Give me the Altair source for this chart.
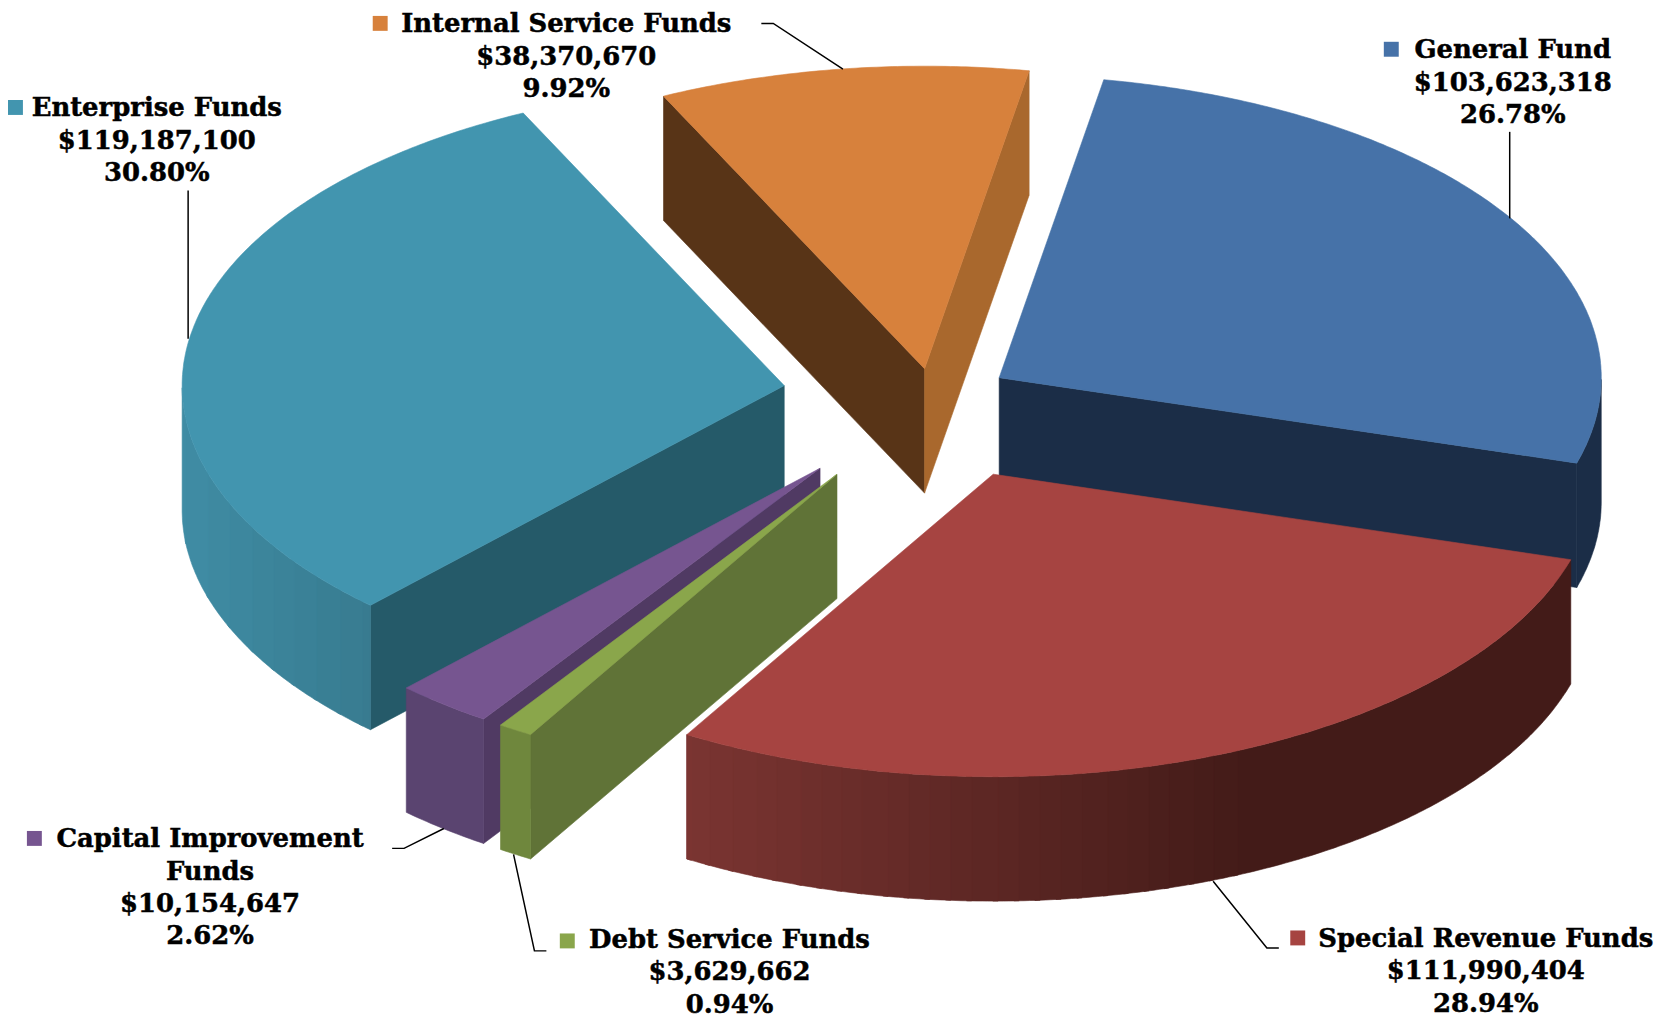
import math
import altair as alt

# ---- values ----
names = ["General Fund", "Special Revenue Funds", "Debt Service Funds",
         "Capital Improvement Funds", "Enterprise Funds", "Internal Service Funds"]
amounts = [103623318, 111990404, 3629662, 10154647, 119187100, 38370670]
percents = ["26.78%", "28.94%", "0.94%", "2.62%", "30.80%", "9.92%"]
name_lines = [["General Fund"], ["Special Revenue Funds"], ["Debt Service Funds"],
              ["Capital Improvement", "Funds"], ["Enterprise Funds"], ["Internal Service Funds"]]

# ---- styles ----
top_colors = ["#4672a8", "#a64441", "#8aa64b", "#765590", "#4295af", "#d7813c"]
start_face = ["#1b2d47", "#000000", "#607337", "#503a63", "#255a69", "#583417"]
end_face = ["#1b2d47", "#000000", "#000000", "#000000", "#000000", "#a9682d"]
rim_left = ["#1b2d47", "#7b3532", "#6f873d", "#5f4774", "#3f8ca4", "#a9682d"]
rim_right = ["#1b2d47", "#431b18", "#6f873d", "#5a4470", "#387b90", "#a9682d"]

# ---- layout (page pixels) ----
W, H = 1655, 1011
OFF = 8
RX, RY, DEPTH = 605, 304, 125
START_DEG = 80
BAND_PX = 22
centers = [(1004, 377), (998, 474), (841, 474), (824, 468), (788, 385), (929, 368)]
rim_span = [(600, 1620), (687, 1250), (0, 1), (0, 1), (185, 369), (0, 1)]
draw_order = [5, 0, 4, 1, 3, 2]
swatches = [(1398, 47), (1304, 940), (570, 943), (34.5, 840), (10.5, 105.5), (382, 21)]
text_pos = [(1520, 56), (1493, 949), (733, 950), (211, 849), (157.5, 114.5), (569, 30)]
LINE_H = 32.5
FONT_SIZE = 26
leaders = [
    [(1517, 130), (1517, 217)],
    [(1285, 950), (1273, 950), (1219, 883)],
    [(549, 953), (537, 953), (516, 856)],
    [(394, 850), (406, 850), (446, 830)],
    [(189, 189), (189, 338)],
    [(765, 21), (777, 21), (847, 67)],
]


def hex2rgb(c):
    return [int(c[i:i + 2], 16) for i in (1, 3, 5)]


def mix(a, b, f):
    f = max(0.0, min(1.0, f))
    ca, cb = hex2rgb(a), hex2rgb(b)
    return "#%02x%02x%02x" % tuple(round(x + (y - x) * f) for x, y in zip(ca, cb))


def pt(c, t, dz=0):
    r = math.radians(t)
    return [round(c[0] + RX * math.cos(r) - OFF, 1), round(c[1] - RY * math.sin(r) + dz - OFF, 1)]


def feature(ring, color):
    ring = ring + [ring[0]]
    return {"type": "Feature", "properties": {"color": color},
            "geometry": {"type": "Polygon", "coordinates": [ring]}}


def frange(a, b, step=-0.5):
    n = max(1, int(abs(b - a) / abs(step)))
    return [a + (b - a) * k / n for k in range(n + 1)]


def rim_piece(c, band, color):
    return feature([pt(c, s) for s in band] + [pt(c, s, DEPTH) for s in reversed(band)], color)


total = sum(amounts)
angles = []
cursor = START_DEG
for v in amounts:
    angles.append((cursor, cursor - 360 * v / total))
    cursor -= 360 * v / total

features = []
for i in draw_order:
    c = centers[i]
    a0, a1 = angles[i]
    apex = [c[0] - OFF, c[1] - OFF]
    apex_low = [c[0] - OFF, c[1] - OFF + DEPTH]
    # straight inner faces turned towards the viewer
    if math.sin(math.radians(a0 + 90)) < 0:
        features.append(feature([apex, pt(c, a0), pt(c, a0, DEPTH), apex_low], start_face[i]))
    if math.sin(math.radians(a1 - 90)) < 0:
        features.append(feature([apex, pt(c, a1), pt(c, a1, DEPTH), apex_low], end_face[i]))
    # outer rim, in flat shaded bands as in the picture; each band overlaps the next
    ts = [t for t in frange(a0, a1) if math.sin(math.radians(t)) <= 0.001]
    lo, hi = rim_span[i]
    band, band_col = [], None
    for t, u in zip(ts[:-1], ts[1:]):
        x = pt(c, (t + u) / 2)[0] + OFF
        qx = round(x / BAND_PX) * BAND_PX
        col = mix(rim_left[i], rim_right[i], (qx - lo) / (hi - lo))
        if col != band_col and band:
            features.append(rim_piece(c, band + [u], band_col))
            band = [t]
        elif not band:
            band = [t]
        band_col = col
        band.append(u)
    if band:
        features.append(rim_piece(c, band, band_col))
    # top face
    features.append(feature([apex] + [pt(c, t) for t in frange(a0, a1)], top_colors[i]))

pie = alt.Chart(alt.Data(values=features)).mark_geoshape(strokeWidth=0.6).encode(
    fill=alt.Fill("properties.color:N", scale=None),
    stroke=alt.Stroke("properties.color:N", scale=None),
).project(type="identity", scale=1, translate=[0, 0])

text_rows = []
for i, nm in enumerate(names):
    lines = name_lines[i] + ["${:,}".format(amounts[i]), percents[i]]
    for k, line in enumerate(lines):
        text_rows.append({"t": line, "x": text_pos[i][0] - OFF, "y": text_pos[i][1] + k * LINE_H - OFF})

labels = alt.Chart(alt.Data(values=text_rows)).mark_text(
    font="DejaVu Serif", fontWeight="bold", fontSize=FONT_SIZE, align="center", baseline="alphabetic",
    color="#000000", stroke="#000000", strokeWidth=0.5
).encode(x=alt.X("x:Q", scale=None), y=alt.Y("y:Q", scale=None), text="t:N")

sw_rows = [{"x": max(7.5, s[0] - OFF), "y": s[1] - OFF, "c": top_colors[i]} for i, s in enumerate(swatches)]
squares = alt.Chart(alt.Data(values=sw_rows)).mark_square(size=225, opacity=1, filled=True).encode(
    x=alt.X("x:Q", scale=None), y=alt.Y("y:Q", scale=None), fill=alt.Fill("c:N", scale=None))

lead_rows = []
for i, pts in enumerate(leaders):
    for k, p in enumerate(pts):
        lead_rows.append({"g": i, "k": k, "x": p[0] - OFF, "y": p[1] - OFF})
lead = alt.Chart(alt.Data(values=lead_rows)).mark_line(color="#000000", strokeWidth=1.5).encode(
    x=alt.X("x:Q", scale=None), y=alt.Y("y:Q", scale=None), detail="g:N", order="k:Q")

chart = alt.layer(pie, lead, squares, labels).properties(
    width=W, height=H, padding=0, autosize="none", background="#ffffff"
).configure_view(stroke=None).configure_axis(disable=True)

chart.save("out.html", embed_options={"renderer": "svg", "actions": False})
